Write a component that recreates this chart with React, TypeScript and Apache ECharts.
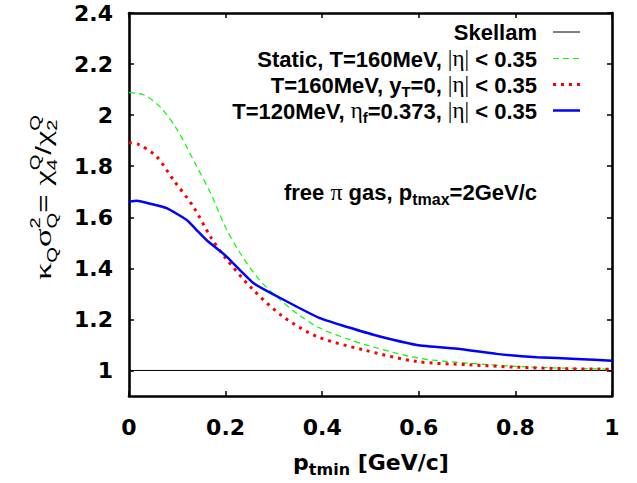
import React, { useEffect, useRef } from 'react';
import * as echarts from 'echarts';

// ---- data ----
const xTicks = [0, 0.2, 0.4, 0.6, 0.8, 1];
const yTicks = [1, 1.2, 1.4, 1.6, 1.8, 2, 2.2, 2.4];

const skellamX = [0, 1];
const skellamY = [1, 1];

const staticX = [0, 0.03, 0.064, 0.1, 0.14, 0.17, 0.2, 0.23, 0.27, 0.313, 0.35, 0.395, 0.45, 0.5, 0.6, 0.7, 0.8, 0.9, 1.0];
const staticY = [2.088, 2.08, 2.033, 1.942, 1.8, 1.69, 1.56, 1.46, 1.355, 1.277, 1.22, 1.166, 1.125, 1.095, 1.048, 1.029, 1.016, 1.009, 1.005];

const yT0X = [0, 0.02, 0.057, 0.092, 0.133, 0.17, 0.2, 0.257, 0.319, 0.389, 0.485, 0.596, 0.706, 0.8, 0.9, 1.0];
const yT0Y = [1.892, 1.885, 1.838, 1.746, 1.642, 1.52, 1.44, 1.316, 1.211, 1.133, 1.081, 1.035, 1.022, 1.013, 1.007, 1.005];

const flowX = [0, 0.016, 0.04, 0.078, 0.119, 0.14, 0.161, 0.202, 0.258, 0.32, 0.395, 0.437, 0.506, 0.596, 0.685, 0.761, 0.844, 0.927, 1.0];
const flowY = [1.661, 1.665, 1.655, 1.636, 1.59, 1.55, 1.51, 1.446, 1.342, 1.277, 1.205, 1.179, 1.14, 1.1, 1.084, 1.065, 1.052, 1.045, 1.038];

const FAMILY = '"Liberation Sans", Arial, Helvetica, sans-serif';
const WIDE = '"DejaVu Sans", Verdana, sans-serif';
const SYMFAM = '"Liberation Serif", "DejaVu Serif", serif';

type Piece = { t: string; s: number; dy?: number; stack?: boolean; w?: string; fam?: string };

let mctx: CanvasRenderingContext2D | null = null;
function measure(t: string, size: number, weight: string, fam: string) {
  if (!mctx) mctx = document.createElement('canvas').getContext('2d');
  mctx!.font = `${weight} ${size}px ${fam}`;
  return mctx!.measureText(t).width;
}

function run(pieces: Piece[], weight: string, baseFam = FAMILY) {
  let x = 0;
  let prevStart = 0;
  let prevW = 0;
  const children: any[] = [];
  for (const p of pieces) {
    const wt = p.w || weight;
    const fam = p.fam || baseFam;
    const w = measure(p.t, p.s, wt, fam);
    if (p.t.trim() === '') {
      x += w;
      continue;
    }
    let px: number;
    if (p.stack) {
      px = prevStart;
      const adv = Math.max(prevW, w);
      x = prevStart + adv;
      prevW = adv;
    } else {
      px = x;
      prevStart = x;
      prevW = w;
      x += w;
    }
    children.push({
      type: 'text',
      x: px,
      y: (p.dy || 0) - 0.35 * p.s,
      silent: true,
      style: {
        text: p.t,
        fontSize: p.s,
        fontWeight: wt,
        fontFamily: fam,
        fill: '#000',
        align: 'left',
        verticalAlign: 'middle',
      },
    });
  }
  return { children, width: x };
}

const S = 22;
const SUB = 15;
const sp = (s = S): Piece => ({ t: ' ', s });

function legendRows() {
  const eta = (t: string): Piece => ({ t, s: S + 1, w: 'normal', fam: SYMFAM });
  const rows: Piece[][] = [
    [{ t: 'Skellam', s: S }],
    [{ t: 'Static, T=160MeV,', s: S }, sp(), eta('|η|'), sp(), { t: '< 0.35', s: S }],
    [{ t: 'T=160MeV, y', s: S }, { t: 'T', s: SUB, dy: 4 }, { t: '=0,', s: S }, sp(), eta('|η|'), sp(), { t: '< 0.35', s: S }],
    [{ t: 'T=120MeV,', s: S }, sp(), eta('η'), { t: 'f', s: SUB, dy: 4 }, { t: '=0.373,', s: S }, sp(), eta('|η|'), sp(), { t: '< 0.35', s: S }],
  ];
  const lineStyles = [
    { stroke: '#000', lineWidth: 1 },
    { stroke: '#00ff00', lineWidth: 1.2, lineDash: [6, 4] },
    { stroke: '#ff0000', lineWidth: 3, lineDash: [3, 5] },
    { stroke: '#0000ff', lineWidth: 2.5 },
  ];
  const centers = [32, 58.5, 84.5, 110.5];
  const els: any[] = [];
  rows.forEach((r, i) => {
    const { children, width } = run(r, 'bold');
    els.push({ type: 'group', x: 537 - width, y: centers[i] + 8.5, children });
    els.push({ type: 'line', silent: true, shape: { x1: 553, y1: centers[i], x2: 580, y2: centers[i] }, style: lineStyles[i] });
  });
  return els;
}

function annotations() {
  const els: any[] = [];
  const free = run([
    { t: 'free', s: S }, sp(), { t: 'π', s: S + 2, w: 'normal', fam: SYMFAM }, sp(), { t: 'gas, p', s: S },
    { t: 'tmax', s: 16, dy: 5 }, { t: '=2GeV/c', s: S },
  ], 'bold');
  els.push({ type: 'group', x: 537 - free.width, y: 200, children: free.children });

  const xt = run([{ t: 'p', s: S }, { t: 'tmin', s: 16, dy: 5 }, sp(), { t: '[GeV/c]', s: S }], 'bold', WIDE);
  els.push({ type: 'group', x: 371 - xt.width / 2, y: 470, children: xt.children });

  const ys = 22;
  const ss = 14;
  const g = (t: string): Piece => ({ t, s: ys + 2, fam: SYMFAM });
  const yl = run([
    g('κ'), { t: 'Q', s: ss, dy: 6 },
    g('σ'), { t: '2', s: ss, dy: -11 }, { t: 'Q', s: ss, dy: 6, stack: true },
    { t: '=', s: ys }, sp(ys),
    g('χ'), { t: 'Q', s: ss, dy: -11 }, { t: '4', s: ss, dy: 6, stack: true },
    { t: '/', s: ys },
    g('χ'), { t: 'Q', s: ss, dy: -11 }, { t: '2', s: ss, dy: 6, stack: true },
  ], 'normal');
  const targetLen = 165;
  const sc = targetLen / yl.width;
  els.push({ type: 'group', x: 51, y: 197.5 + targetLen / 2, rotation: Math.PI / 2, scaleX: sc, children: yl.children });
  return els;
}

const fmt = (v: number) => String(Math.round(v * 10) / 10);

export default function App() {
  const ref = useRef<HTMLDivElement>(null);
  useEffect(() => {
    document.body.style.margin = '0';
    const chart = echarts.init(ref.current!, null, { renderer: 'svg' });
    const axisLine = { show: true, onZero: false, lineStyle: { color: '#000', width: 2.6 } };
    const tick = { show: true, inside: true, length: 5, lineStyle: { color: '#000', width: 1.5 } };
    const label = { color: '#000', fontSize: 22, fontWeight: 'bold', fontFamily: WIDE };
    const mk = (xs: number[], ys: number[]) => xs.map((x, i) => [x, ys[i]]);
    const option: any = {
      animation: false,
      grid: { left: 129, right: 25, top: 13, bottom: 87, containLabel: false },
      xAxis: [
        { type: 'value', min: 0, max: 1, interval: 0.2, position: 'bottom', axisLine, axisTick: tick, splitLine: { show: false },
          axisLabel: { ...label, margin: 20, formatter: fmt, customValues: xTicks } },
        { type: 'value', min: 0, max: 1, interval: 0.2, position: 'top', axisLine, axisTick: tick, splitLine: { show: false },
          axisLabel: { show: false } },
      ],
      yAxis: [
        { type: 'value', min: 0.9, max: 2.4, position: 'left', axisLine, axisTick: { ...tick, customValues: yTicks }, splitLine: { show: false },
          axisLabel: { ...label, margin: 16, formatter: fmt, customValues: yTicks } },
        { type: 'value', min: 0.9, max: 2.4, position: 'right', axisLine, axisTick: { ...tick, customValues: yTicks }, splitLine: { show: false },
          axisLabel: { show: false } },
      ],
      series: [
        { name: 'Skellam', type: 'line', data: mk(skellamX, skellamY), showSymbol: false, symbol: 'none',
          lineStyle: { color: '#000', width: 1 } },
        { name: 'Static', type: 'line', data: mk(staticX, staticY), showSymbol: false, symbol: 'none', smooth: 0.3,
          lineStyle: { color: '#00ff00', width: 1.2, type: [6, 4] } },
        { name: 'yT0', type: 'line', data: mk(yT0X, yT0Y), showSymbol: false, symbol: 'none', smooth: 0.3,
          lineStyle: { color: '#ff0000', width: 3, type: [3, 5] } },
        { name: 'flow', type: 'line', data: mk(flowX, flowY), showSymbol: false, symbol: 'none', smooth: 0.15,
          lineStyle: { color: '#0000ff', width: 2.5 } },
      ],
      graphic: { elements: [...legendRows(), ...annotations()] },
    };
    chart.setOption(option);
    return () => chart.dispose();
  }, []);
  return <div ref={ref} style={{ width: 637, height: 483, position: 'absolute', left: 0, top: 0, background: '#fff' }} />;
}
